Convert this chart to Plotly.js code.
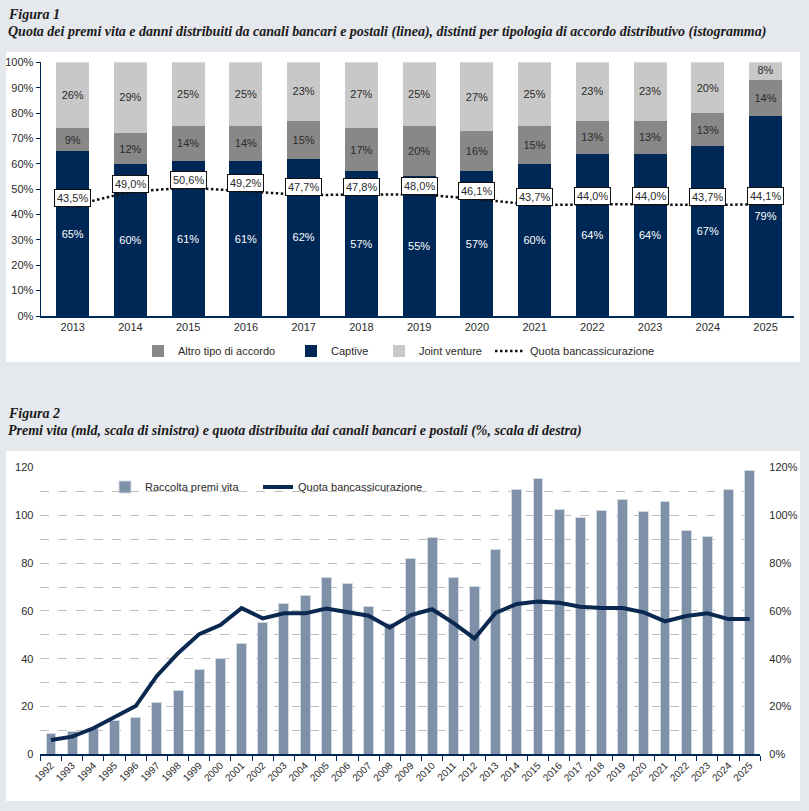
<!DOCTYPE html>
<html>
<head>
<meta charset="utf-8">
<script src="https://cdn.plot.ly/plotly-3.0.1.min.js"></script>
<style>
  html, body { margin: 0; padding: 0; background: #e5e8ed; }
  #chart { width: 809px; height: 811px; }
</style>
</head>
<body>
<div id="chart"></div>
<script>
// Figura 1 data
const years1 = ['2013', '2014', '2015', '2016', '2017', '2018', '2019', '2020', '2021', '2022', '2023', '2024', '2025'];
const captive = [65, 60, 61, 61, 62, 57, 55, 57, 60, 64, 64, 67, 79];
const altroTipo = [9, 12, 14, 14, 15, 17, 20, 16, 15, 13, 13, 13, 14];
const jointVenture = [26, 29, 25, 25, 23, 27, 25, 27, 25, 23, 23, 20, 8];
const quotaBanc1 = [43.5, 49.0, 50.6, 49.2, 47.7, 47.8, 48.0, 46.1, 43.7, 44.0, 44.0, 43.7, 44.1];

// Figura 2 data
const years2 = ['1992', '1993', '1994', '1995', '1996', '1997', '1998', '1999', '2000', '2001', '2002',
    '2003', '2004', '2005', '2006', '2007', '2008', '2009', '2010', '2011', '2012', '2013', '2014',
    '2015', '2016', '2017', '2018', '2019', '2020', '2021', '2022', '2023', '2024', '2025'];
const premiVita = [8.5, 9.6, 11, 14, 15.6, 21.7, 26.7, 35.5, 40, 46.4, 55.2, 63.2, 66.5, 74, 71.3, 61.8,
    54.8, 82, 90.6, 74.2, 70.3, 85.8, 111, 115.5, 102.6, 99, 102.2, 106.7, 101.8, 106, 93.6, 91.2, 111, 118.8];
const quotaBanc2 = [6, 7.4, 10.9, 15.7, 20.2, 32.8, 42.3, 50.3, 54.1, 61.2, 56.9, 59, 59, 61, 59.7, 58,
    53.1, 58.3, 60.7, 55, 48.5, 59.2, 62.9, 63.9, 63.4, 61.8, 61.2, 61.2, 59.4, 55.6, 57.9, 59, 56.6, 56.6];

const W = 809, H = 811;
const px = (x) => x / W;
const py = (y) => 1 - y / H;

const NAVY = '#002856';
const FONT = 'Liberation Sans Narrow, Arial Narrow, sans-serif';
const TXT = '#2b2b2b';

const pctComma = (v) => v.toFixed(1).replace('.', ',') + '%';

let traces = [
    {
        x: years1, y: captive, type: 'bar', name: 'Captive', legend: 'legend2',
        marker: { color: NAVY },
        text: captive.map(v => v + '%'), textposition: 'inside', insidetextanchor: 'middle',
        textfont: { color: '#ffffff', size: 11, family: FONT }, textangle: 0,
        width: 0.57, xaxis: 'x', yaxis: 'y', hoverinfo: 'skip'
    },
    {
        x: years1, y: altroTipo, type: 'bar', name: 'Altro tipo di accordo', legend: 'legend',
        marker: { color: '#888888' },
        text: altroTipo.map(v => v + '%'), textposition: 'inside', insidetextanchor: 'middle',
        textfont: { color: TXT, size: 11, family: FONT }, textangle: 0,
        width: 0.57, xaxis: 'x', yaxis: 'y', hoverinfo: 'skip'
    },
    {
        x: years1, y: jointVenture, type: 'bar', name: 'Joint venture', legend: 'legend3',
        marker: { color: '#c8c8c8' },
        text: jointVenture.map(v => v + '%'), textposition: 'inside', insidetextanchor: 'middle',
        textfont: { color: TXT, size: 11, family: FONT }, textangle: 0,
        width: 0.57, xaxis: 'x', yaxis: 'y', hoverinfo: 'skip'
    },
    {
        x: years1, y: quotaBanc1, type: 'scatter', mode: 'lines', name: 'Quota bancassicurazione',
        legend: 'legend4',
        line: { color: '#111111', width: 2.5, dash: '2.5px,2.5px' },
        xaxis: 'x', yaxis: 'y', hoverinfo: 'skip'
    },
    {
        x: years2, y: premiVita, type: 'bar', name: 'Raccolta premi vita', legend: 'legend5',
        marker: { color: '#7f91a8', line: { color: '#d3d9e1', width: 1 } },
        width: 0.47, xaxis: 'x2', yaxis: 'y2', hoverinfo: 'skip'
    },
    {
        x: years2, y: quotaBanc2, type: 'scatter', mode: 'lines', name: 'Quota bancassicurazione',
        legend: 'legend6',
        line: { color: '#0a2850', width: 4 },
        xaxis: 'x2', yaxis: 'y3', hoverinfo: 'skip'
    }
];

// Boxed labels above the dotted line (x as category index)
let annotations = years1.map((yr, i) => ({
    x: i, y: quotaBanc1[i], xref: 'x', yref: 'y',
    text: pctComma(quotaBanc1[i]), showarrow: false, yshift: 8,
    bgcolor: '#ffffff', bordercolor: '#111111', borderwidth: 1, borderpad: 2,
    font: { size: 11, family: FONT, color: TXT }
}));

const titleFont = { family: 'Liberation Serif, serif', size: 14, color: '#1a1a1a' };
const subFont = { family: 'Liberation Serif, serif', size: 14, color: '#1a1a1a' };
annotations.push(
    { text: '<b><i>Figura 1</i></b>', xref: 'paper', yref: 'paper', x: px(6), y: py(14),
      xanchor: 'left', yanchor: 'middle', showarrow: false, font: titleFont },
    { text: '<b><i>Quota dei premi vita e danni distribuiti da canali bancari e postali (linea), distinti per tipologia di accordo distributivo (istogramma)</i></b>',
      xref: 'paper', yref: 'paper', x: px(6), y: py(32),
      xanchor: 'left', yanchor: 'middle', showarrow: false, font: subFont },
    { text: '<b><i>Figura 2</i></b>', xref: 'paper', yref: 'paper', x: px(6), y: py(413),
      xanchor: 'left', yanchor: 'middle', showarrow: false, font: titleFont },
    { text: '<b><i>Premi vita (mld, scala di sinistra) e quota distribuita dai canali bancari e postali (%, scala di destra)</i></b>',
      xref: 'paper', yref: 'paper', x: px(6), y: py(431),
      xanchor: 'left', yanchor: 'middle', showarrow: false, font: subFont }
);

const shapes = [
    { type: 'rect', xref: 'paper', yref: 'paper', x0: px(6), x1: px(800), y0: py(362), y1: py(52),
      fillcolor: '#ffffff', line: { width: 0 }, layer: 'below' },
    { type: 'rect', xref: 'paper', yref: 'paper', x0: px(6), x1: px(800), y0: py(801), y1: py(451),
      fillcolor: '#ffffff', line: { width: 0 }, layer: 'below' }
];

const legendBase = {
    orientation: 'h', yanchor: 'middle', xanchor: 'left', bgcolor: 'rgba(0,0,0,0)',
    font: { size: 11, family: FONT, color: TXT }, itemwidth: 30
};

const layout = {
    width: W, height: H,
    margin: { l: 0, r: 0, t: 0, b: 0 },
    paper_bgcolor: '#e5e8ed',
    plot_bgcolor: 'rgba(0,0,0,0)',
    barmode: 'stack',
    font: { family: FONT, size: 11, color: TXT },
    showlegend: true,
    xaxis: {
        type: 'category',
        domain: [px(41), px(794.4)], range: [-0.55, 12.5], anchor: 'y',
        showline: true, linecolor: NAVY, linewidth: 1.5, ticks: '', showgrid: false,
        tickfont: { size: 11, family: FONT, color: TXT }, fixedrange: true
    },
    yaxis: {
        domain: [py(316), py(62.3)], range: [0, 100], anchor: 'x',
        dtick: 10, ticksuffix: '%', showline: true, linecolor: NAVY, linewidth: 1.5,
        ticks: 'outside', ticklen: 4, tickcolor: NAVY, showgrid: false, zeroline: false,
        tickfont: { size: 11, family: FONT, color: TXT }, fixedrange: true
    },
    xaxis2: {
        type: 'category',
        domain: [px(40.4), px(760.3)], range: [-0.5, 33.5], anchor: 'y2',
        showline: true, linecolor: NAVY, linewidth: 1.5, ticks: 'outside', tickson: 'boundaries',
        ticklen: 5, tickcolor: NAVY, tickangle: -45, showgrid: false,
        tickfont: { size: 10, family: FONT, color: TXT }, fixedrange: true
    },
    yaxis2: {
        domain: [py(754.3), py(467.6)], range: [0, 120], anchor: 'x2',
        dtick: 20, showline: false, ticks: '', zeroline: false, ticklabelstandoff: 6,
        showgrid: true, gridcolor: '#bdbdbd', griddash: 'dash', gridwidth: 1,
        minor: { dtick: 10, showgrid: true, gridcolor: '#bdbdbd', griddash: 'dash', gridwidth: 1 },
        tickfont: { size: 11, family: FONT, color: TXT }, fixedrange: true
    },
    yaxis3: {
        overlaying: 'y2', side: 'right', anchor: 'x2', range: [0, 120], dtick: 20,
        ticksuffix: '%', showgrid: false, showline: false, zeroline: false, ticks: '',
        ticklabelstandoff: 8,
        tickfont: { size: 11, family: FONT, color: TXT }, fixedrange: true
    },
    legend: Object.assign({}, legendBase, { x: px(138), y: py(351) }),
    legend2: Object.assign({}, legendBase, { x: px(291), y: py(351) }),
    legend3: Object.assign({}, legendBase, { x: px(379), y: py(351) }),
    legend4: Object.assign({}, legendBase, { x: px(490), y: py(351) }),
    legend5: Object.assign({}, legendBase, { x: px(105), y: py(487) }),
    legend6: Object.assign({}, legendBase, { x: px(258), y: py(487) }),
    shapes: shapes,
    annotations: annotations
};

Plotly.newPlot('chart', traces, layout, { displayModeBar: false, staticPlot: true });
</script>
</body>
</html>
